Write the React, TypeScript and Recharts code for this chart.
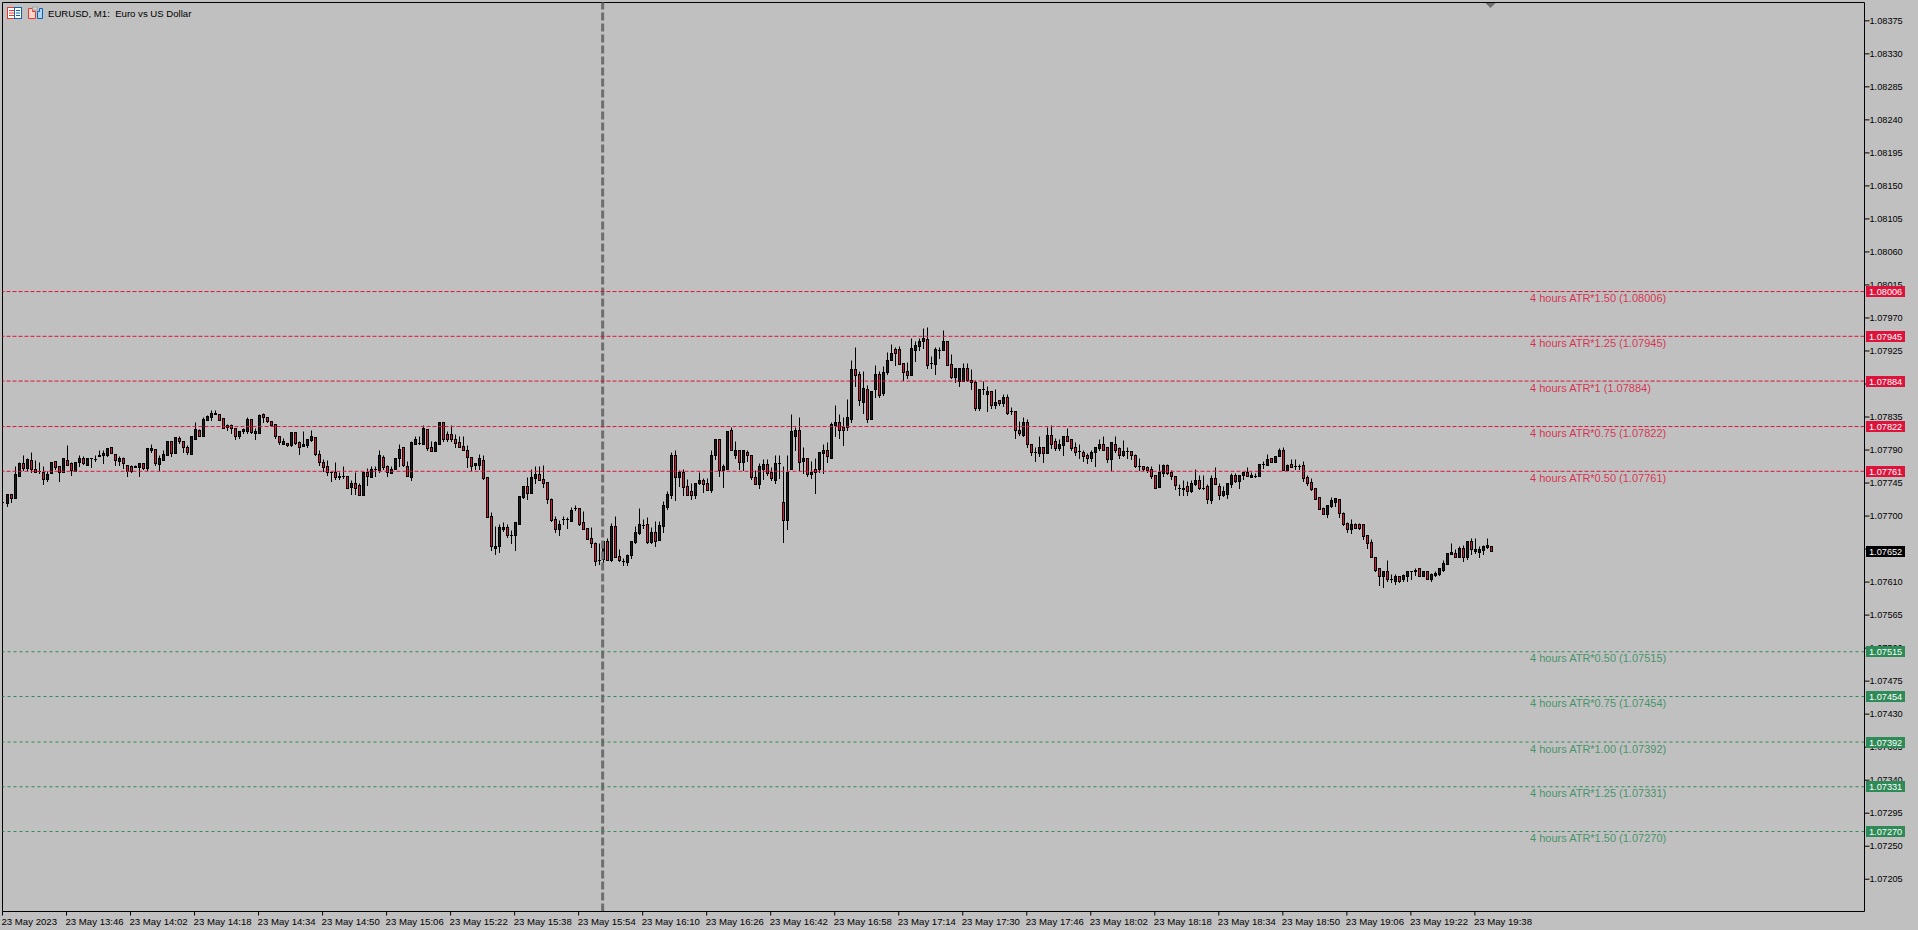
import { ComposedChart, Bar, XAxis, YAxis, ReferenceLine, ReferenceDot } from 'recharts'

const FONT = '"Liberation Sans", Arial, sans-serif'
const RED = '#dc143c'
const GREEN = '#2e8b57'

// prices below are in points, 7822 -> 1.07822
const opens = [
  7718, 7717, 7729, 7724, 7754, 7771, 7765, 7776, 7764, 7761, 7760, 7750, 7758, 7774, 7767, 7760, 7776, 7771, 7761, 7773,
  7778, 7769, 7778, 7777, 7781, 7782, 7783, 7793, 7784, 7774, 7779, 7769, 7768, 7766, 7766, 7772, 7765, 7790, 7791, 7770,
  7776, 7783, 7802, 7785, 7806, 7802, 7794, 7784, 7805, 7817, 7809, 7830, 7835, 7838, 7839, 7833, 7824, 7824, 7820, 7808,
  7815, 7815, 7831, 7813, 7813, 7839, 7834, 7829, 7825, 7809, 7798, 7799, 7796, 7814, 7800, 7795, 7796, 7803, 7807, 7784,
  7773, 7767, 7759, 7759, 7753, 7754, 7754, 7739, 7744, 7742, 7728, 7759, 7753, 7763, 7762, 7780, 7767, 7758, 7764, 7778,
  7793, 7768, 7753, 7798, 7799, 7798, 7818, 7793, 7788, 7797, 7828, 7811, 7811, 7805, 7800, 7795, 7790, 7780, 7769, 7769,
  7776, 7752, 7699, 7656, 7658, 7682, 7684, 7674, 7674, 7689, 7725, 7740, 7731, 7751, 7756, 7750, 7746, 7722, 7695, 7682,
  7695, 7695, 7693, 7710, 7710, 7691, 7683, 7669, 7663, 7639, 7641, 7665, 7639, 7686, 7645, 7638, 7637, 7646, 7664, 7676,
  7687, 7688, 7664, 7678, 7667, 7686, 7712, 7728, 7783, 7752, 7760, 7740, 7733, 7728, 7744, 7748, 7744, 7735, 7783, 7804,
  7762, 7764, 7816, 7783, 7790, 7773, 7786, 7783, 7752, 7743, 7764, 7770, 7760, 7748, 7771, 7718, 7694, 7764, 7809, 7816,
  7774, 7779, 7756, 7763, 7763, 7785, 7790, 7779, 7824, 7828, 7821,
  7821, 7831, 7900, 7893, 7855, 7873, 7832, 7873, 7893, 7867, 7895, 7912, 7927, 7927, 7908, 7897, 7892, 7926, 7931, 7938,
  7941, 7908, 7907, 7926, 7926, 7938, 7907, 7889, 7884, 7884, 7901, 7885, 7882, 7847, 7872, 7866, 7870, 7851, 7857, 7853,
  7862, 7842, 7843, 7816, 7810, 7828, 7798, 7787, 7785, 7793, 7785, 7810, 7802, 7792, 7796, 7808, 7804, 7793, 7788, 7787,
  7782, 7778, 7786, 7792, 7798, 7793, 7777, 7798, 7792,
  7782, 7788, 7788, 7782, 7767, 7767, 7766, 7763, 7755, 7739, 7758, 7769, 7759, 7754, 7737, 7736, 7740, 7733, 7743, 7748,
  7738, 7740, 7721, 7751, 7740, 7728, 7729, 7743, 7755, 7747, 7755, 7759, 7752, 7754, 7754, 7770, 7769, 7778, 7773, 7781,
  7789, 7762, 7770, 7767, 7767, 7769, 7752, 7746, 7737, 7725, 7710, 7702, 7713, 7718, 7722, 7704, 7690, 7682, 7689, 7689,
  7689, 7674, 7664, 7644, 7628, 7617, 7624, 7614, 7611, 7617, 7613, 7618, 7624, 7626, 7628, 7617, 7625, 7614, 7619, 7621,
  7626, 7634, 7648, 7649, 7643, 7656, 7644, 7666, 7652, 7651, 7653, 7657, 7659,
]
const closes = [
  7718, 7729, 7724, 7756, 7772, 7765, 7777, 7764, 7760, 7761, 7750, 7756, 7773, 7766, 7760, 7778, 7769, 7762, 7773, 7778,
  7771, 7778, 7778, 7777, 7783, 7785, 7792, 7785, 7776, 7779, 7771, 7761, 7761, 7768, 7772, 7765, 7792, 7792, 7772, 7778,
  7784, 7802, 7785, 7807, 7801, 7793, 7786, 7808, 7818, 7809, 7831, 7836, 7840, 7840, 7830, 7820, 7821, 7820, 7808, 7815,
  7818, 7831, 7814, 7815, 7837, 7834, 7829, 7824, 7809, 7800, 7801, 7796, 7814, 7799, 7793, 7798, 7804, 7809, 7784, 7773,
  7766, 7759, 7759, 7753, 7754, 7754, 7738, 7744, 7738, 7728, 7759, 7754, 7763, 7763, 7782, 7766, 7759, 7764, 7778, 7791,
  7769, 7754, 7800, 7804, 7799, 7819, 7792, 7788, 7800, 7828, 7804, 7804, 7804, 7799, 7794, 7789, 7780, 7767, 7771, 7778,
  7751, 7698, 7658, 7659, 7684, 7684, 7674, 7674, 7691, 7726, 7740, 7731, 7752, 7756, 7749, 7745, 7723, 7694, 7682, 7688,
  7695, 7695, 7708, 7710, 7688, 7682, 7668, 7663, 7638, 7639, 7665, 7640, 7686, 7644, 7639, 7638, 7646, 7665, 7678, 7688,
  7687, 7664, 7678, 7665, 7687, 7714, 7729, 7783, 7752, 7760, 7739, 7728, 7728, 7745, 7748, 7743, 7735, 7783, 7804, 7762,
  7767, 7815, 7789, 7790, 7773, 7789, 7782, 7752, 7743, 7767, 7770, 7758, 7751, 7771, 7771, 7694, 7760, 7815, 7817, 7773,
  7779, 7756, 7759, 7759, 7786, 7790, 7781, 7825, 7828, 7817, 7817,
  7834, 7900, 7892, 7857, 7874, 7832, 7870, 7893, 7865, 7896, 7912, 7922, 7922, 7907, 7896, 7892, 7928, 7933, 7938, 7942,
  7905, 7908, 7927, 7926, 7938, 7905, 7889, 7901, 7901, 7901, 7885, 7882, 7847, 7873, 7872, 7870, 7851, 7855, 7853, 7861,
  7840, 7842, 7817, 7812, 7827, 7797, 7787, 7787, 7793, 7785, 7810, 7798, 7792, 7797, 7808, 7801, 7792, 7787, 7788, 7781,
  7778, 7787, 7793, 7798, 7790, 7777, 7800, 7789, 7782,
  7788, 7788, 7782, 7767, 7767, 7763, 7762, 7754, 7737, 7759, 7769, 7758, 7754, 7741, 7737, 7738, 7733, 7744, 7748, 7737,
  7738, 7722, 7751, 7743, 7728, 7733, 7744, 7755, 7747, 7755, 7759, 7754, 7755, 7754, 7770, 7770, 7777, 7773, 7781, 7789,
  7762, 7769, 7766, 7767, 7767, 7751, 7744, 7736, 7722, 7709, 7702, 7714, 7721, 7724, 7704, 7689, 7682, 7689, 7683, 7683,
  7672, 7663, 7643, 7626, 7617, 7624, 7613, 7614, 7618, 7611, 7619, 7624, 7624, 7624, 7618, 7625, 7614, 7621, 7622, 7628,
  7636, 7649, 7651, 7643, 7656, 7643, 7666, 7655, 7655, 7655, 7659, 7660, 7652,
]
const highs = [
  7719, 7729, 7730, 7767, 7773, 7782, 7778, 7787, 7776, 7773, 7767, 7761, 7773, 7774, 7768, 7778, 7796, 7773, 7773, 7783,
  7781, 7778, 7778, 7783, 7790, 7790, 7792, 7794, 7784, 7781, 7780, 7769, 7769, 7769, 7772, 7772, 7792, 7798, 7791, 7782,
  7789, 7802, 7802, 7807, 7808, 7802, 7796, 7808, 7828, 7818, 7834, 7837, 7844, 7844, 7839, 7833, 7825, 7825, 7820, 7815,
  7820, 7834, 7832, 7820, 7838, 7840, 7834, 7829, 7825, 7809, 7806, 7799, 7814, 7814, 7801, 7815, 7805, 7817, 7807, 7789,
  7777, 7776, 7759, 7773, 7759, 7767, 7754, 7748, 7760, 7745, 7759, 7765, 7767, 7768, 7790, 7782, 7769, 7767, 7778, 7797,
  7794, 7774, 7802, 7809, 7809, 7824, 7818, 7802, 7802, 7828, 7828, 7815, 7823, 7811, 7809, 7809, 7796, 7780, 7771, 7784,
  7783, 7752, 7705, 7686, 7688, 7691, 7688, 7680, 7691, 7726, 7740, 7752, 7763, 7767, 7768, 7769, 7746, 7724, 7699, 7694,
  7699, 7698, 7711, 7714, 7710, 7706, 7683, 7684, 7664, 7663, 7665, 7669, 7690, 7699, 7655, 7642, 7648, 7665, 7686, 7710,
  7695, 7698, 7684, 7693, 7693, 7720, 7733, 7786, 7790, 7762, 7763, 7750, 7744, 7745, 7759, 7751, 7751, 7789, 7805, 7804,
  7770, 7815, 7821, 7801, 7790, 7789, 7789, 7783, 7762, 7771, 7777, 7777, 7766, 7782, 7782, 7767, 7782, 7839, 7821, 7834,
  7794, 7779, 7775, 7778, 7786, 7797, 7800, 7828, 7851, 7839, 7834,
  7859, 7912, 7930, 7897, 7897, 7878, 7870, 7905, 7897, 7904, 7923, 7934, 7930, 7931, 7908, 7909, 7942, 7938, 7942, 7956,
  7957, 7918, 7930, 7930, 7953, 7938, 7920, 7901, 7901, 7908, 7908, 7900, 7885, 7873, 7884, 7877, 7870, 7872, 7858, 7866,
  7866, 7848, 7843, 7829, 7834, 7832, 7798, 7793, 7808, 7794, 7821, 7824, 7806, 7804, 7808, 7820, 7804, 7800, 7797, 7789,
  7785, 7789, 7793, 7804, 7809, 7793, 7800, 7809, 7793,
  7803, 7794, 7788, 7784, 7779, 7767, 7767, 7767, 7755, 7770, 7770, 7770, 7762, 7754, 7743, 7748, 7747, 7748, 7763, 7755,
  7755, 7743, 7755, 7766, 7744, 7740, 7744, 7758, 7758, 7755, 7759, 7766, 7759, 7758, 7770, 7775, 7784, 7779, 7781, 7792,
  7793, 7770, 7777, 7777, 7770, 7774, 7755, 7751, 7737, 7725, 7712, 7714, 7725, 7724, 7722, 7705, 7691, 7695, 7690, 7690,
  7689, 7674, 7668, 7644, 7628, 7625, 7640, 7621, 7621, 7618, 7621, 7625, 7625, 7628, 7628, 7625, 7625, 7622, 7625, 7628,
  7640, 7649, 7663, 7655, 7659, 7660, 7666, 7670, 7670, 7659, 7660, 7670, 7659,
]
const lows = [
  7717, 7713, 7719, 7724, 7754, 7762, 7762, 7759, 7759, 7758, 7743, 7747, 7758, 7763, 7747, 7759, 7769, 7755, 7761, 7768,
  7770, 7769, 7766, 7775, 7781, 7771, 7781, 7785, 7769, 7769, 7765, 7754, 7760, 7766, 7754, 7764, 7762, 7787, 7769, 7762,
  7776, 7783, 7781, 7785, 7799, 7787, 7784, 7784, 7804, 7808, 7809, 7830, 7830, 7838, 7830, 7819, 7816, 7813, 7805, 7806,
  7813, 7813, 7812, 7805, 7813, 7828, 7827, 7822, 7806, 7798, 7797, 7795, 7795, 7798, 7784, 7795, 7794, 7802, 7783, 7769,
  7761, 7755, 7747, 7750, 7750, 7751, 7738, 7729, 7729, 7728, 7728, 7742, 7753, 7754, 7759, 7764, 7754, 7758, 7764, 7767,
  7768, 7754, 7749, 7797, 7797, 7798, 7789, 7788, 7788, 7797, 7802, 7801, 7802, 7793, 7793, 7789, 7766, 7762, 7763, 7763,
  7750, 7698, 7653, 7647, 7650, 7679, 7671, 7663, 7653, 7688, 7724, 7722, 7731, 7745, 7748, 7739, 7717, 7692, 7678, 7674,
  7688, 7683, 7693, 7707, 7687, 7682, 7668, 7657, 7633, 7634, 7636, 7639, 7638, 7643, 7638, 7632, 7632, 7642, 7663, 7675,
  7683, 7663, 7663, 7659, 7667, 7678, 7709, 7724, 7721, 7740, 7728, 7728, 7722, 7724, 7743, 7732, 7735, 7732, 7777, 7754,
  7739, 7764, 7789, 7778, 7764, 7762, 7774, 7750, 7743, 7737, 7750, 7755, 7748, 7744, 7751, 7664, 7682, 7763, 7789, 7762,
  7758, 7754, 7751, 7731, 7759, 7758, 7773, 7779, 7809, 7806, 7796,
  7817, 7827, 7877, 7851, 7840, 7828, 7832, 7862, 7862, 7865, 7893, 7912, 7905, 7907, 7885, 7888, 7892, 7911, 7926, 7928,
  7901, 7901, 7893, 7915, 7926, 7905, 7888, 7882, 7876, 7884, 7884, 7873, 7844, 7844, 7866, 7842, 7847, 7847, 7851, 7850,
  7838, 7839, 7806, 7810, 7809, 7793, 7783, 7774, 7781, 7773, 7785, 7792, 7790, 7790, 7782, 7801, 7789, 7782, 7778, 7775,
  7771, 7774, 7767, 7789, 7789, 7773, 7762, 7787, 7779,
  7781, 7779, 7777, 7766, 7762, 7762, 7760, 7751, 7737, 7739, 7754, 7756, 7750, 7736, 7728, 7728, 7728, 7732, 7741, 7736,
  7736, 7717, 7717, 7743, 7722, 7727, 7724, 7739, 7746, 7737, 7750, 7754, 7752, 7752, 7754, 7765, 7769, 7773, 7773, 7781,
  7762, 7762, 7766, 7763, 7763, 7747, 7741, 7735, 7722, 7709, 7702, 7698, 7712, 7713, 7698, 7687, 7678, 7676, 7683, 7682,
  7668, 7656, 7643, 7624, 7605, 7603, 7611, 7609, 7607, 7610, 7611, 7611, 7613, 7619, 7617, 7617, 7613, 7611, 7617, 7619,
  7625, 7634, 7647, 7643, 7643, 7638, 7641, 7648, 7649, 7643, 7647, 7656, 7652,
]

const timeLabels = [
  '23 May 2023', '23 May 13:46', '23 May 14:02', '23 May 14:18', '23 May 14:34', '23 May 14:50', '23 May 15:06', '23 May 15:22',
  '23 May 15:38', '23 May 15:54', '23 May 16:10', '23 May 16:26', '23 May 16:42', '23 May 16:58', '23 May 17:14', '23 May 17:30',
  '23 May 17:46', '23 May 18:02', '23 May 18:18', '23 May 18:34', '23 May 18:50', '23 May 19:06', '23 May 19:22', '23 May 19:38',
]
const timeTicks = timeLabels.map((_, i) => i * 16)

const priceTicks = [
  1.07205, 1.0725, 1.07295, 1.0734, 1.07385, 1.0743, 1.07475, 1.0752, 1.07565, 1.0761, 1.07655, 1.077, 1.07745, 1.0779,
  1.07835, 1.0788, 1.07925, 1.0797, 1.08015, 1.0806, 1.08105, 1.0815, 1.08195, 1.0824, 1.08285, 1.0833, 1.08375,
]

const upperLevels = [1.08006, 1.07945, 1.07884, 1.07822, 1.07761]
const upperMults = ['1.50', '1.25', '1', '0.75', '0.50']
const lowerLevels = [1.07515, 1.07454, 1.07392, 1.07331, 1.0727]
const lowerMults = ['0.50', '0.75', '1.00', '1.25', '1.50']

const LAST_PRICE = 1.07652
const CURSOR_BAR = 150
const SHIFT_BAR = 372
const X_DOMAIN = [0, 465.375]
const Y_DOMAIN = [1.07161, 1.084]

const candles = opens.map((o, i) => ({
  bar: i,
  open: 1 + o / 100000,
  close: 1 + closes[i] / 100000,
  high: 1 + highs[i] / 100000,
  low: 1 + lows[i] / 100000,
  range: [1 + lows[i] / 100000, 1 + highs[i] / 100000],
}))

function CandleShape(props: any) {
  const { x, y, width, height, payload } = props
  const { open, close, high, low } = payload
  const perUnit = height / (high - low)
  const toY = (p: number) => Math.floor(y + (high - p) * perUnit) + 0.5
  const col = Math.floor(x + width / 2) + 0.5
  const top = toY(Math.max(open, close))
  const bottom = toY(Math.min(open, close))
  const isDown = close < open
  return (
    <g>
      <line x1={col} x2={col} y1={toY(high)} y2={toY(low) + 0.5} stroke="#000" strokeWidth={1} />
      {bottom - top < 1 ? (
        <line x1={col - 1.5} x2={col + 1.5} y1={top} y2={top} stroke="#000" strokeWidth={1} />
      ) : (
        <rect x={col - 1} y={top} width={2} height={bottom - top} fill={isDown ? '#dc143c' : '#1c1c1c'} stroke="#000" strokeWidth={1} />
      )}
    </g>
  )
}

function TimeTick({ x, y, payload, index }: any) {
  return (
    <text x={x - 1} y={y + 7} fontSize={9.6} fontFamily={FONT} fill="#000">
      {timeLabels[index ?? timeTicks.indexOf(payload.value)]}
    </text>
  )
}

function PriceBox({ viewBox, value, fill }: any) {
  const right = viewBox.x + viewBox.width
  const mid = Math.floor(viewBox.y) + 0.5
  return (
    <g>
      <rect x={right + 1.5} y={mid - 5.5} width={39} height={11} fill={fill} />
      <text x={right + 4.5} y={mid + 3.5} fontSize={9.2} fontFamily={FONT} fill="#fff">
        {value.toFixed(5)}
      </text>
    </g>
  )
}

function LevelLabel({ viewBox, text, fill }: any) {
  return (
    <text x={1530} y={viewBox.y + 10.5} fontSize={11} fontFamily={FONT} fill={fill} fillOpacity={0.85}>
      {text}
    </text>
  )
}

function ShiftMarker({ cx }: any) {
  const col = Math.floor(cx) + 0.5
  return <path d={`M${col - 5} 3L${col + 5} 3L${col} 8Z`} fill="#6e6e6e" />
}

function TableIcon() {
  return (
    <svg width={16} height={12} style={{ position: 'absolute', left: 7, top: 7 }}>
      <rect x={0.5} y={0.5} width={7} height={11} fill="#fff" stroke="#e8392c" />
      <rect x={7.5} y={0.5} width={7} height={11} fill="#fff" stroke="#1261b0" />
      <path d="M2 3.5H7M2 6H7M2 8.5H7" stroke="#e8392c" />
      <path d="M9 3.5H13M9 6H13M9 8.5H13" stroke="#1261b0" />
    </svg>
  )
}

function BookIcon() {
  return (
    <svg width={16} height={13} style={{ position: 'absolute', left: 28, top: 6 }}>
      <path d="M0.5 2.5H4.5V5.5H7.5V12.5H0.5Z" fill="#fcd5cc" stroke="#e8392c" />
      <path d="M9.5 12.5V5.5H11.5V2.5H14.5V12.5Z" fill="#aad4f2" stroke="#1261b0" />
      <rect x={4.5} y={1} width={5} height={3} fill="#d4d4d4" stroke="#8a8a8a" strokeWidth={0.6} />
    </svg>
  )
}

export default function App() {
  return (
    <div style={{ position: 'absolute', left: 0, top: 0, width: 1918, height: 930, background: '#c0c0c0', overflow: 'hidden' }}>
      <ComposedChart width={1918} height={930} data={candles} margin={{ top: 2.5, left: 2.5, right: 0, bottom: 0 }}>
        <XAxis
          dataKey="bar"
          type="number"
          domain={X_DOMAIN}
          allowDataOverflow
          ticks={timeTicks}
          interval={0}
          height={18.5}
          tickSize={4}
          tickLine={{ stroke: '#000' }}
          axisLine={{ stroke: '#000' }}
          tick={<TimeTick />}
        />
        <YAxis
          orientation="right"
          type="number"
          domain={Y_DOMAIN}
          allowDataOverflow
          ticks={priceTicks}
          interval={0}
          width={53.5}
          tickSize={5}
          tickMargin={0}
          tickLine={{ stroke: '#000' }}
          axisLine={{ stroke: '#000' }}
          tick={{ fontSize: 9.2, fontFamily: FONT, fill: '#000' }}
          tickFormatter={(v: number) => v.toFixed(5)}
        />
        <ReferenceLine x={0} stroke="#000" />
        <ReferenceLine y={1.084} stroke="#000" />
        <ReferenceLine x={CURSOR_BAR} stroke="#6e6e6e" strokeWidth={3} strokeDasharray="8 3" />
        {upperLevels.map((v, i) => (
          <ReferenceLine
            key={v}
            y={v}
            stroke={RED}
            strokeDasharray="4 2"
            label={<LevelLabel text={`4 hours ATR*${upperMults[i]} (${v.toFixed(5)})`} fill={RED} />}
          />
        ))}
        {lowerLevels.map((v, i) => (
          <ReferenceLine
            key={v}
            y={v}
            stroke={GREEN}
            strokeDasharray="3 3"
            label={<LevelLabel text={`4 hours ATR*${lowerMults[i]} (${v.toFixed(5)})`} fill={GREEN} />}
          />
        ))}
        <Bar dataKey="range" barSize={3} isAnimationActive={false} shape={<CandleShape />} />
        <ReferenceDot x={SHIFT_BAR} y={1.084} r={5} shape={<ShiftMarker />} />
      </ComposedChart>
      {/* second layer: the price boxes have to cover the axis tick labels */}
      <div style={{ position: 'absolute', left: 0, top: 0 }}>
        <ComposedChart width={1918} height={930} data={candles} margin={{ top: 2.5, left: 2.5, right: 53.5, bottom: 18.5 }}>
          <XAxis dataKey="bar" type="number" domain={X_DOMAIN} allowDataOverflow hide />
          <YAxis type="number" domain={Y_DOMAIN} allowDataOverflow hide />
          {upperLevels.map((v) => (
            <ReferenceLine key={v} y={v} stroke="none" ifOverflow="visible" label={<PriceBox value={v} fill={RED} />} />
          ))}
          {lowerLevels.map((v) => (
            <ReferenceLine key={v} y={v} stroke="none" ifOverflow="visible" label={<PriceBox value={v} fill={GREEN} />} />
          ))}
          <ReferenceLine y={LAST_PRICE} stroke="none" ifOverflow="visible" label={<PriceBox value={LAST_PRICE} fill="#000" />} />
          <Bar dataKey="range" barSize={3} isAnimationActive={false} shape={() => null} />
        </ComposedChart>
      </div>
      <TableIcon />
      <BookIcon />
      <div style={{ position: 'absolute', left: 48, top: 8, fontSize: 9.6, fontFamily: FONT, color: '#000', whiteSpace: 'pre', lineHeight: '12px' }}>
        {'EURUSD, M1:  Euro vs US Dollar'}
      </div>
    </div>
  )
}
